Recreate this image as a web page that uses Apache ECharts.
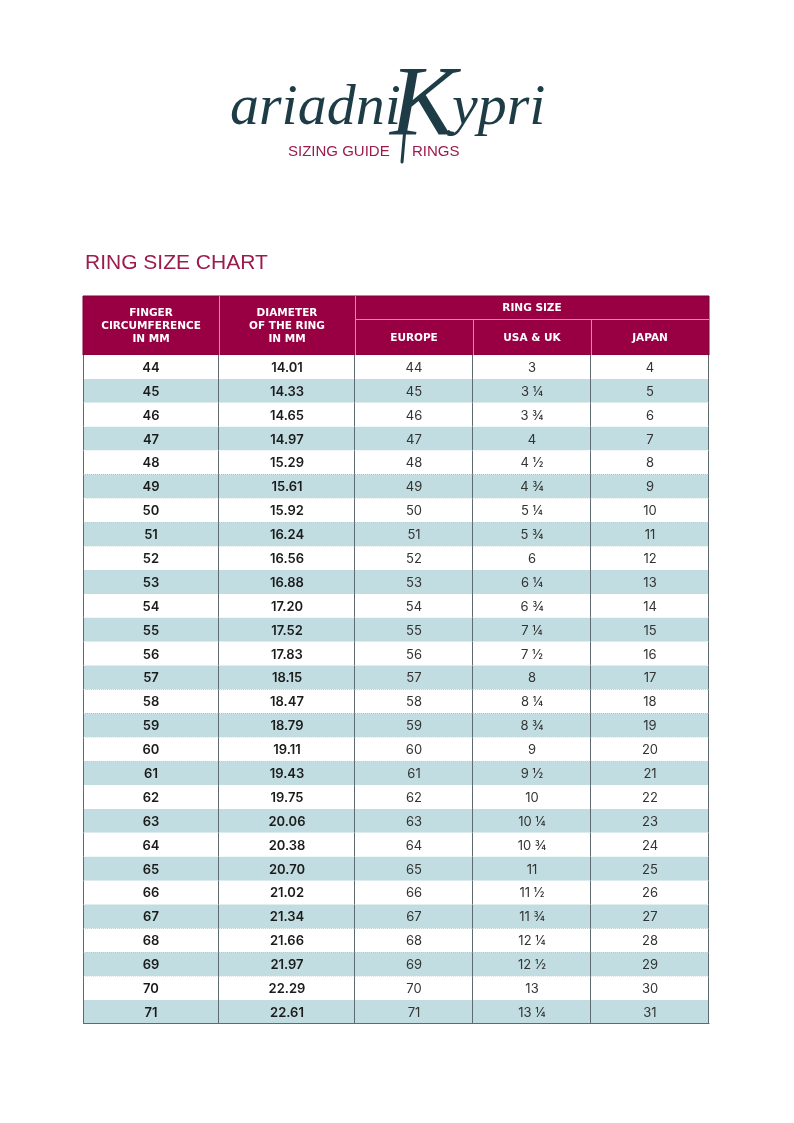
<!DOCTYPE html>
<html>
<head>
<meta charset="utf-8">
<script src="https://cdn.jsdelivr.net/npm/echarts@6/dist/echarts.min.js"></script>
<style>
  html, body { margin: 0; padding: 0; background: #ffffff; }
  #chart { width: 794px; height: 1123px; }
</style>
</head>
<body>
<div id="chart"></div>
<script>
// ---- data ----
const circumference = [44, 45, 46, 47, 48, 49, 50, 51, 52, 53, 54, 55, 56, 57, 58, 59, 60, 61, 62, 63, 64, 65, 66, 67, 68, 69, 70, 71];
const diameter = ['14.01', '14.33', '14.65', '14.97', '15.29', '15.61', '15.92', '16.24', '16.56', '16.88', '17.20', '17.52', '17.83', '18.15', '18.47', '18.79', '19.11', '19.43', '19.75', '20.06', '20.38', '20.70', '21.02', '21.34', '21.66', '21.97', '22.29', '22.61'];
const europe = [44, 45, 46, 47, 48, 49, 50, 51, 52, 53, 54, 55, 56, 57, 58, 59, 60, 61, 62, 63, 64, 65, 66, 67, 68, 69, 70, 71];
const usaUk = ['3', '3 ¼', '3 ¾', '4', '4 ½', '4 ¾', '5 ¼', '5 ¾', '6', '6 ¼', '6 ¾', '7 ¼', '7 ½', '8', '8 ¼', '8 ¾', '9', '9 ½', '10', '10 ¼', '10 ¾', '11', '11 ½', '11 ¾', '12 ¼', '12 ½', '13', '13 ¼'];
const japan = [4, 5, 6, 7, 8, 9, 10, 11, 12, 13, 14, 15, 16, 17, 18, 19, 20, 21, 22, 23, 24, 25, 26, 27, 28, 29, 30, 31];

const headerCol1 = ['FINGER', 'CIRCUMFERENCE', 'IN MM'];
const headerCol2 = ['DIAMETER', 'OF THE RING', 'IN MM'];
const headerGroup = 'RING SIZE';
const headerSub = ['EUROPE', 'USA & UK', 'JAPAN'];
const chartTitle = 'RING SIZE CHART';
const logoParts = ['ariadni', 'K', 'ypri'];
const logoSub = ['SIZING GUIDE', 'RINGS'];

// ---- layout / style ----
const columns = [circumference, diameter, europe, usaUk, japan];
const colEdges = [0, 136, 272, 390, 508, 626];
const GRID = { left: 83, top: 355, width: 626, height: 669 };
const HEADER_TOP = 296;
const HEADER_SPLIT = 319;
const CRIMSON = '#990043';
const BLUE = '#c1dde1';
const TEAL = '#1d3c46';
const FONT = 'Inter, "Noto Sans", sans-serif';
const LINE = '#5d6a70';

const cells = [];
for (let r = 0; r < circumference.length; r++) {
  for (let c = 0; c < columns.length; c++) {
    cells.push([c, r, String(columns[c][r])]);
  }
}

const px = e => GRID.left + e * GRID.width / colEdges[colEdges.length - 1];

const graphics = [];
// logo
graphics.push({ type: 'text', left: 230, top: 80, style: { text: logoParts[0], font: 'italic 58px "Liberation Serif", serif', fill: TEAL } });
graphics.push({ type: 'line', shape: { x1: 405, y1: 128, x2: 402, y2: 162 }, style: { stroke: TEAL, lineWidth: 3, lineCap: 'round' } });
graphics.push({ type: 'text', left: 390, top: 58, style: { text: logoParts[1], font: 'italic 100px "Liberation Serif", serif', fill: TEAL } });
graphics.push({ type: 'text', left: 452, top: 80, style: { text: logoParts[2], font: 'italic 58px "Liberation Serif", serif', fill: TEAL } });
graphics.push({ type: 'text', left: 288, top: 144, style: { text: logoSub[0], font: '15px "Liberation Sans", Arial, sans-serif', fill: '#9b1b4b' } });
graphics.push({ type: 'text', left: 412, top: 144, style: { text: logoSub[1], font: '15px "Liberation Sans", Arial, sans-serif', fill: '#9b1b4b' } });
// title
graphics.push({ type: 'text', left: 85, top: 253, style: { text: chartTitle, font: '21px "Liberation Sans", Arial, sans-serif', fill: '#9b1b4b' } });

// header background
const hx0 = px(colEdges[0]), hx5 = px(colEdges[5]);
graphics.push({ type: 'rect', shape: { x: hx0, y: HEADER_TOP, width: hx5 - hx0, height: GRID.top - HEADER_TOP }, style: { fill: CRIMSON, stroke: '#7a0035', lineWidth: 1 } });
// header separators
[1, 2].forEach(i => {
  graphics.push({ type: 'line', shape: { x1: px(colEdges[i]) + 0.5, y1: HEADER_TOP, x2: px(colEdges[i]) + 0.5, y2: GRID.top }, style: { stroke: '#d88aa8', lineWidth: 1 } });
});
[3, 4].forEach(i => {
  graphics.push({ type: 'line', shape: { x1: px(colEdges[i]) + 0.5, y1: HEADER_SPLIT, x2: px(colEdges[i]) + 0.5, y2: GRID.top }, style: { stroke: '#d88aa8', lineWidth: 1 } });
});
graphics.push({ type: 'line', shape: { x1: px(colEdges[2]), y1: HEADER_SPLIT + 0.5, x2: px(colEdges[5]), y2: HEADER_SPLIT + 0.5 }, style: { stroke: '#d88aa8', lineWidth: 1 } });
// header texts
const hFont = 'bold 10.5px "DejaVu Sans", sans-serif';
[[headerCol1, 0], [headerCol2, 1]].forEach(([lines, c]) => {
  graphics.push({ type: 'text', style: { text: lines.join('\n'), x: (px(colEdges[c]) + px(colEdges[c + 1])) / 2, y: (HEADER_TOP + GRID.top) / 2 + 1, align: 'center', verticalAlign: 'middle', font: hFont, lineHeight: 13, fill: '#ffffff' } });
});
graphics.push({ type: 'text', style: { text: headerGroup, x: (px(colEdges[2]) + px(colEdges[5])) / 2, y: (HEADER_TOP + HEADER_SPLIT) / 2 + 1, align: 'center', verticalAlign: 'middle', font: hFont, fill: '#ffffff' } });
headerSub.forEach((t, i) => {
  const c = i + 2;
  graphics.push({ type: 'text', style: { text: t, x: (px(colEdges[c]) + px(colEdges[c + 1])) / 2, y: (HEADER_SPLIT + GRID.top) / 2 + 1, align: 'center', verticalAlign: 'middle', font: hFont, fill: '#ffffff' } });
});

const chart = echarts.init(document.getElementById('chart'), null, { renderer: 'canvas' });
chart.setOption({
  backgroundColor: '#ffffff',
  animation: false,
  grid: { left: GRID.left, top: GRID.top, width: GRID.width, height: GRID.height, containLabel: false },
  xAxis: { type: 'value', min: colEdges[0], max: colEdges[colEdges.length - 1], show: false },
  yAxis: { type: 'category', data: circumference.map(String), inverse: true, show: false },
  graphic: graphics,
  series: [{
    type: 'custom',
    data: cells,
    encode: { x: 0, y: 1 },
    renderItem: function (params, api) {
      const c = api.value(0);
      const r = api.value(1);
      const text = cells[params.dataIndex][2];
      const center = api.coord([colEdges[c], r]);
      const x0 = api.coord([colEdges[c], r])[0];
      const x1 = api.coord([colEdges[c + 1], r])[0];
      const h = api.size([0, 1])[1];
      const y0 = center[1] - h / 2;
      const y1 = center[1] + h / 2;
      const children = [];
      children.push({ type: 'rect', shape: { x: x0, y: y0, width: x1 - x0, height: h }, style: { fill: r % 2 === 1 ? BLUE : '#ffffff' } });
      if (r < circumference.length - 1) {
        children.push({ type: 'line', shape: { x1: x0, y1: Math.round(y1) + 0.5, x2: x1, y2: Math.round(y1) + 0.5 }, style: { stroke: '#9a9a9a', lineWidth: 1, lineDash: [1, 1] } });
      } else {
        children.push({ type: 'line', shape: { x1: x0, y1: Math.round(y1) - 0.5, x2: x1 + 0.5, y2: Math.round(y1) - 0.5 }, style: { stroke: LINE, lineWidth: 1 } });
      }
      children.push({ type: 'line', shape: { x1: Math.round(x1) - 0.5, y1: y0, x2: Math.round(x1) - 0.5, y2: y1 }, style: { stroke: LINE, lineWidth: 1 } });
      if (c === 0) {
        children.push({ type: 'line', shape: { x1: Math.round(x0) + 0.5, y1: y0, x2: Math.round(x0) + 0.5, y2: y1 }, style: { stroke: LINE, lineWidth: 1 } });
      }
      children.push({ type: 'text', style: { text: text, x: (x0 + x1) / 2, y: center[1] + 1, align: 'center', verticalAlign: 'middle', font: (c < 2 ? '600 13px ' : '400 13px ') + FONT, fill: c < 2 ? '#1b1b1b' : '#333333' } });
      return { type: 'group', children: children };
    }
  }]
});
</script>
</body>
</html>
